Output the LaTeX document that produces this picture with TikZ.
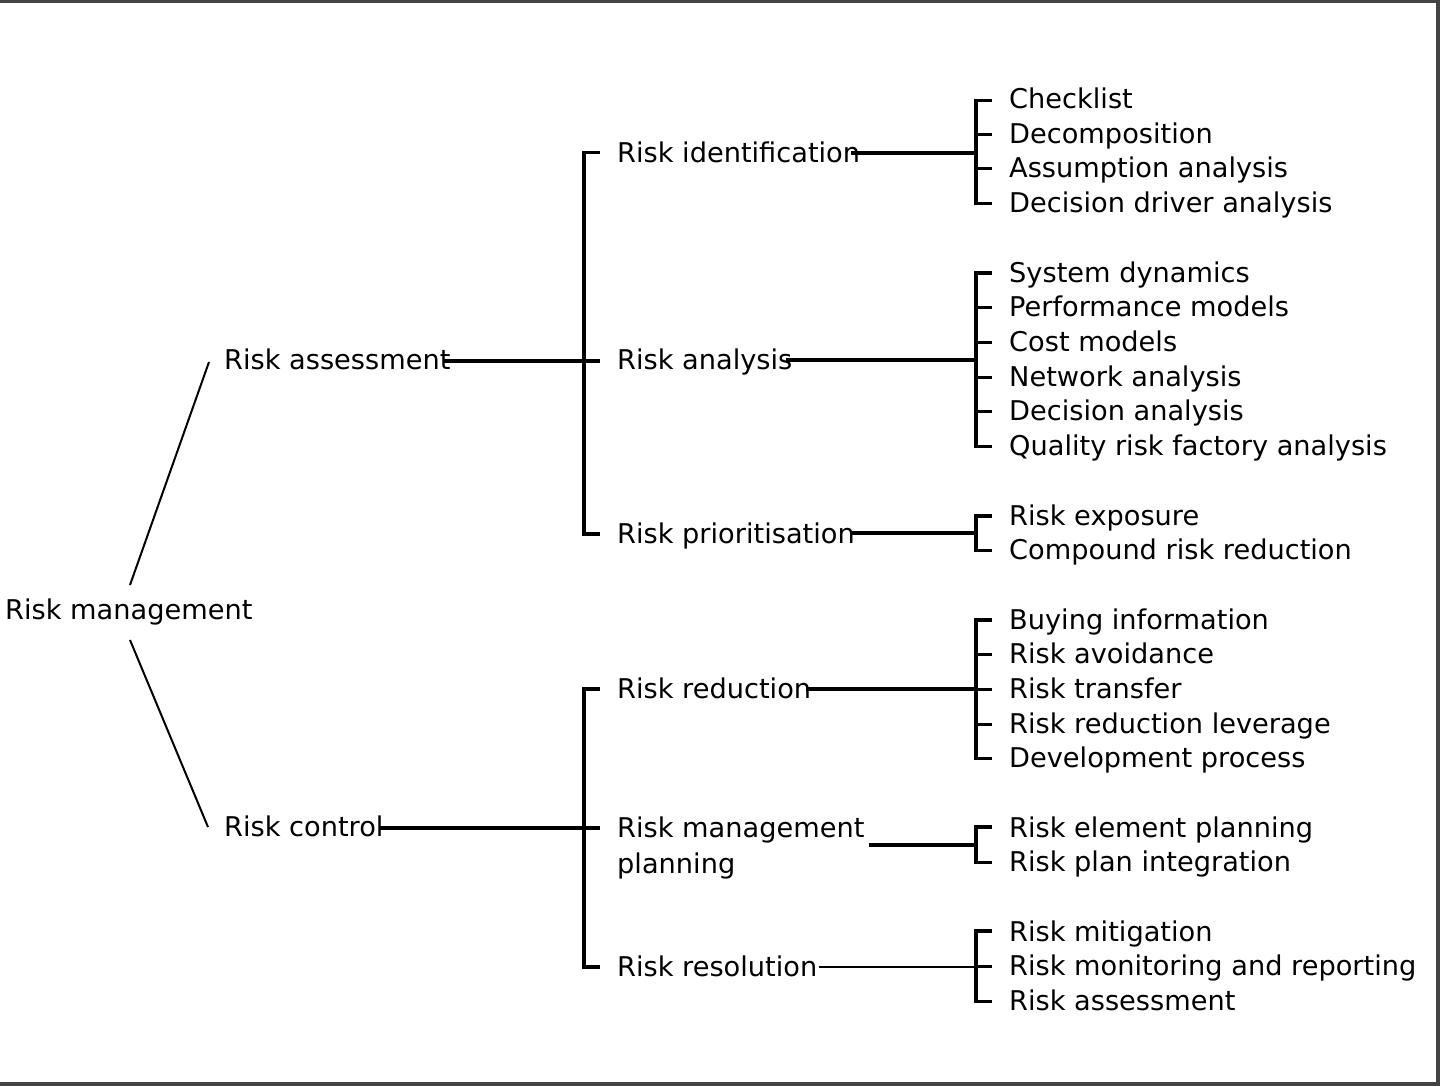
\documentclass[tikz,border=0pt]{standalone}
\usepackage{fontspec}
\setmainfont{DejaVu Sans}
\begin{document}
\begin{tikzpicture}[x=1pt,y=-1pt,
  lbl/.style={anchor=base west, inner sep=0pt, font=\fontsize{27.2}{36}\selectfont},
  conn/.style={line width=3.2pt, line cap=butt, line join=miter},
  thinconn/.style={line width=2.4pt},
  diag/.style={line width=2pt},
  frameline/.style={line width=3.5pt, draw={rgb,255:red,68;green,68;blue,68}}]
\useasboundingbox (0,0) rectangle (1440,1086);
% frame (top, right, bottom)
\draw[frameline] (0,1.5) -- (1438,1.5) -- (1438,1084.2) -- (0,1084.2);

% root and level 1
\node[lbl] (rm) at (5,619) {Risk management};
\node[lbl] (ra) at (224,369) {Risk assessment};
\node[lbl] (rc) at (224,836) {Risk control};

% level 2
\node[lbl] (ri) at (617,163) {Risk identification};
\node[lbl] (ran) at (617,369) {Risk analysis};
\node[lbl] (rp) at (617,543) {Risk prioritisation};
\node[lbl] (rr) at (617,698) {Risk reduction};
\node[lbl, align=left] (rmp) at (617,873) {Risk management\\[-0.5pt]planning};
\node[lbl] (rres) at (617,976) {Risk resolution};

% leaves
\node[lbl] (l1) at (1009,108.5) {Checklist};
\node[lbl] (l2) at (1009,143.2) {Decomposition};
\node[lbl] (l3) at (1009,177.9) {Assumption analysis};
\node[lbl] (l4) at (1009,212.6) {Decision driver analysis};

\node[lbl] (m1) at (1009,282) {System dynamics};
\node[lbl] (m2) at (1009,316.7) {Performance models};
\node[lbl] (m3) at (1009,351.4) {Cost models};
\node[lbl] (m4) at (1009,386.1) {Network analysis};
\node[lbl] (m5) at (1009,420.8) {Decision analysis};
\node[lbl] (m6) at (1009,455.5) {Quality risk factory analysis};

\node[lbl] (p1) at (1009,525) {Risk exposure};
\node[lbl] (p2) at (1009,559.7) {Compound risk reduction};

\node[lbl] (r1) at (1009,629) {Buying information};
\node[lbl] (r2) at (1009,663.7) {Risk avoidance};
\node[lbl] (r3) at (1009,698.4) {Risk transfer};
\node[lbl] (r4) at (1009,733.1) {Risk reduction leverage};
\node[lbl] (r5) at (1009,767.8) {Development process};

\node[lbl] (g1) at (1009,837) {Risk element planning};
\node[lbl] (g2) at (1009,871.7) {Risk plan integration};

\node[lbl] (s1) at (1009,941) {Risk mitigation};
\node[lbl] (s2) at (1009,975.7) {Risk monitoring and reporting};
\node[lbl] (s3) at (1009,1010.4) {Risk assessment};

% bracket x positions
\coordinate (xa) at (584,0);
\coordinate (xb) at (976,0);

% root diagonals
\draw[diag] ([xshift=125pt,yshift=34pt]rm.base west) -- ([xshift=-15pt,yshift=7pt]ra.base west);
\draw[diag] ([xshift=125pt,yshift=-21pt]rm.base west) -- ([xshift=-16pt,yshift=9pt]rc.base west);

% level-1 brackets
\draw[conn] ([xshift=-17pt,yshift=10.5pt]ri.base west) -- ([xshift=-33pt,yshift=10.5pt]ri.base west)
  -- ([xshift=-33pt,yshift=9pt]rp.base west) -- ([xshift=-17pt,yshift=9pt]rp.base west);
\draw[conn] ([xshift=-8pt,yshift=8pt]ra.base east) -- ([xshift=-17pt,yshift=8pt]ran.base west);

\draw[conn] ([xshift=-17pt,yshift=9pt]rr.base west) -- ([xshift=-33pt,yshift=9pt]rr.base west)
  -- ([xshift=-33pt,yshift=9pt]rres.base west) -- ([xshift=-17pt,yshift=9pt]rres.base west);
\draw[conn] ([xshift=-4pt,yshift=8pt]rc.base east) coordinate (t2) -- (t2 -| xa) -- ++(16pt,0);

% level-2 connectors
\draw[conn] ([xshift=-9pt,yshift=10pt]ri.base east) coordinate (c1) -- (c1 -| xb);
\draw[conn] ([xshift=-7pt,yshift=9pt]ran.base east) coordinate (c2) -- (c2 -| xb);
\draw[conn] ([xshift=-5pt,yshift=10pt]rp.base east) coordinate (c3) -- (c3 -| xb);
\draw[conn] ([xshift=-5pt,yshift=9pt]rr.base east) coordinate (c4) -- (c4 -| xb);
\draw[conn] ([xshift=4pt,yshift=28pt]rmp.base east) coordinate (c5) -- (c5 -| xb);
\draw[thinconn] ([xshift=2pt,yshift=9pt]rres.base east) coordinate (c6) -- (c6 -| xb);

% leaf brackets
% group 1
\draw[conn] ([xshift=-17pt,yshift=8pt]l1.base west) -- ([xshift=-33pt,yshift=8pt]l1.base west)
  -- ([xshift=-33pt,yshift=9pt]l4.base west) -- ([xshift=-17pt,yshift=9pt]l4.base west);
\draw[conn] ([xshift=-33pt,yshift=9pt]l2.base west) -- ([xshift=-17pt,yshift=9pt]l2.base west);
\draw[conn] ([xshift=-33pt,yshift=9pt]l3.base west) -- ([xshift=-17pt,yshift=9pt]l3.base west);
% group 2
\draw[conn] ([xshift=-17pt,yshift=9pt]m1.base west) -- ([xshift=-33pt,yshift=9pt]m1.base west)
  -- ([xshift=-33pt,yshift=9pt]m6.base west) -- ([xshift=-17pt,yshift=9pt]m6.base west);
\foreach \n in {m2,m3,m4,m5}
  \draw[conn] ([xshift=-33pt,yshift=9pt]\n.base west) -- ([xshift=-17pt,yshift=9pt]\n.base west);
% group 3
\draw[conn] ([xshift=-17pt,yshift=9pt]p1.base west) -- ([xshift=-33pt,yshift=9pt]p1.base west)
  -- ([xshift=-33pt,yshift=9pt]p2.base west) -- ([xshift=-17pt,yshift=9pt]p2.base west);
% group 4
\draw[conn] ([xshift=-17pt,yshift=9pt]r1.base west) -- ([xshift=-33pt,yshift=9pt]r1.base west)
  -- ([xshift=-33pt,yshift=9pt]r5.base west) -- ([xshift=-17pt,yshift=9pt]r5.base west);
\foreach \n in {r2,r3,r4}
  \draw[conn] ([xshift=-33pt,yshift=9pt]\n.base west) -- ([xshift=-17pt,yshift=9pt]\n.base west);
% group 5
\draw[conn] ([xshift=-17pt,yshift=10pt]g1.base west) -- ([xshift=-33pt,yshift=10pt]g1.base west)
  -- ([xshift=-33pt,yshift=9pt]g2.base west) -- ([xshift=-17pt,yshift=9pt]g2.base west);
% group 6
\draw[conn] ([xshift=-17pt,yshift=10pt]s1.base west) -- ([xshift=-33pt,yshift=10pt]s1.base west)
  -- ([xshift=-33pt,yshift=9pt]s3.base west) -- ([xshift=-17pt,yshift=9pt]s3.base west);
\draw[conn] ([xshift=-33pt,yshift=9pt]s2.base west) -- ([xshift=-17pt,yshift=9pt]s2.base west);
\end{tikzpicture}
\end{document}
